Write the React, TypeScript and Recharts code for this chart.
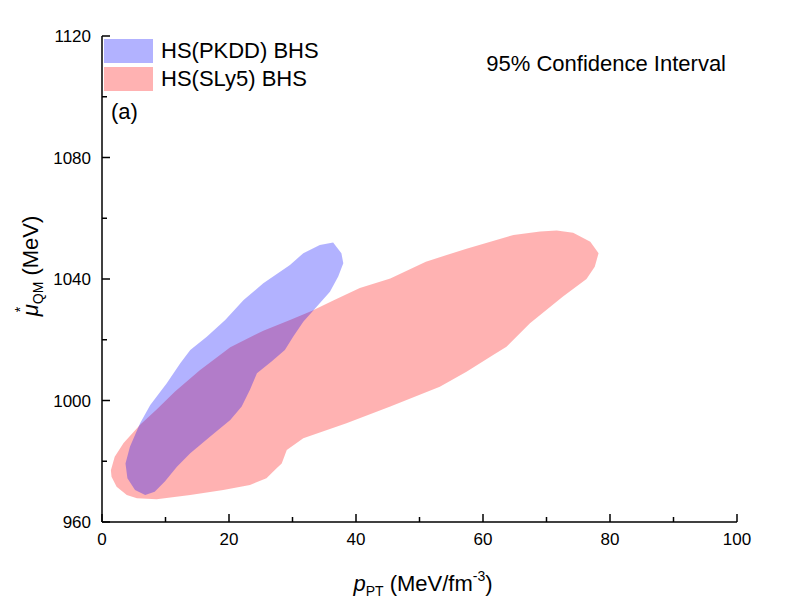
import React from 'react';
import { ComposedChart, Scatter, XAxis, YAxis } from 'recharts';

// Boundary of the 95% confidence region, HS(PKDD) BHS: [p_PT (MeV/fm^-3), mu*_QM (MeV)]
const pkddBoundary: [number, number][] = [
  [36.4, 1052.0], [37.7, 1048.5], [38.0, 1045.2], [37.2, 1040.8], [35.9, 1035.8],
  [33.8, 1030.9], [31.7, 1025.9], [30.1, 1021.0], [28.8, 1016.6], [26.7, 1012.8],
  [24.4, 1009.0], [23.3, 1003.5], [22.0, 998.0], [20.2, 993.6], [17.0, 988.1],
  [13.9, 982.6], [11.8, 978.2], [9.9, 973.3], [8.3, 970.0], [6.8, 968.9],
  [5.2, 970.5], [4.0, 974.4], [3.7, 979.3], [4.4, 984.8], [6.0, 992.5],
  [7.6, 998.5], [10.2, 1005.7], [12.3, 1012.2], [13.9, 1016.6], [16.5, 1021.0],
  [19.4, 1026.5], [22.3, 1033.1], [25.4, 1038.6], [29.6, 1044.6], [31.7, 1048.5],
  [34.3, 1051.2],
];

// Boundary of the 95% confidence region, HS(SLy5) BHS
const sly5Boundary: [number, number][] = [
  [1.4, 977.0], [2.0, 981.5], [3.4, 986.0], [6.0, 992.0], [8.6, 997.0],
  [11.5, 1003.0], [15.4, 1010.0], [20.2, 1017.5], [25.4, 1023.0], [29.6, 1026.5],
  [33.0, 1029.5], [36.5, 1033.0], [40.6, 1037.0], [45.4, 1040.2], [51.0, 1045.7],
  [57.4, 1050.0], [64.8, 1054.5], [69.0, 1055.6], [71.6, 1056.0], [74.2, 1055.2],
  [76.9, 1052.3], [78.2, 1048.5], [77.6, 1044.0], [76.3, 1040.0], [72.6, 1034.2],
  [67.4, 1025.4], [63.7, 1017.7], [61.6, 1015.0], [57.4, 1009.5], [53.2, 1004.5],
  [45.4, 998.0], [38.5, 992.5], [31.7, 987.6], [29.1, 983.7], [28.3, 979.3],
  [27.5, 977.7], [25.9, 974.4], [23.3, 972.2], [19.1, 970.5], [13.9, 968.9],
  [8.6, 967.5], [5.5, 967.8], [3.9, 968.9], [2.3, 971.6], [1.5, 974.9],
];

const seriesNames = ['HS(PKDD) BHS', 'HS(SLy5) BHS'];
const seriesColors = ['#0000ff', '#ff0000'];
const fillOpacity = 0.3;

const xMajorTicks = [0, 20, 40, 60, 80, 100];
const xMinorTicks = [10, 30, 50, 70, 90];
const yMajorTicks = [960, 1000, 1040, 1080, 1120];
const yMinorTicks = [980, 1020, 1060, 1100];

const xTicks = [...xMajorTicks, ...xMinorTicks].sort((a, b) => a - b);
const yTicks = [...yMajorTicks, ...yMinorTicks].sort((a, b) => a - b);

const toPoints = (arr: [number, number][]) => arr.map(([x, y]) => ({ x, y }));
const pkddData = toPoints(pkddBoundary);
const sly5Data = toPoints(sly5Boundary);

const FONT = '"Liberation Sans", Arial, Helvetica, sans-serif';
const W = 793;
const H = 607;
const MAJOR = 8;
const MINOR = 5;
const AXIS_W = 1.5;

const isMajorX = (v: number) => xMajorTicks.includes(v);
const isMajorY = (v: number) => yMajorTicks.includes(v);

const BottomTick = (props: any) => {
  const { x, y, payload } = props;
  const major = isMajorX(payload.value);
  return (
    <g>
      <line x1={x} x2={x} y1={y} y2={y - (major ? MAJOR : MINOR)} stroke="#000" strokeWidth={AXIS_W} />
      {major && (
        <text x={x} y={y + 23} textAnchor="middle" fontSize={17} fontFamily={FONT} fill="#000">
          {payload.value}
        </text>
      )}
    </g>
  );
};

const TopTick = (props: any) => {
  const { x, y, payload } = props;
  const major = isMajorX(payload.value);
  return <line x1={x} x2={x} y1={y} y2={y + (major ? MAJOR : MINOR)} stroke="#000" strokeWidth={AXIS_W} />;
};

const LeftTick = (props: any) => {
  const { x, y, payload } = props;
  const major = isMajorY(payload.value);
  return (
    <g>
      <line x1={x} x2={x + (major ? MAJOR : MINOR)} y1={y} y2={y} stroke="#000" strokeWidth={AXIS_W} />
      {major && (
        <text x={x - 11} y={y + 6} textAnchor="end" fontSize={17} fontFamily={FONT} fill="#000">
          {payload.value}
        </text>
      )}
    </g>
  );
};

const RightTick = (props: any) => {
  const { x, y, payload } = props;
  const major = isMajorY(payload.value);
  return <line x1={x} x2={x - (major ? MAJOR : MINOR)} y1={y} y2={y} stroke="#000" strokeWidth={AXIS_W} />;
};

const noShape = () => <g />;

export default function App() {
  return (
    <div style={{ position: 'absolute', left: 0, top: 0, width: W, height: H, background: '#fff', fontFamily: FONT }}>
      <ComposedChart width={W} height={H} margin={{ top: 36, right: 56, bottom: 45, left: 42 }}>
        <XAxis
          xAxisId="b"
          type="number"
          dataKey="x"
          domain={[0, 100]}
          ticks={xTicks}
          interval={0}
          orientation="bottom"
          height={40}
          tickSize={0}
          tickMargin={0}
          tickLine={false}
          tick={<BottomTick />}
          axisLine={{ stroke: '#000', strokeWidth: AXIS_W }}
          allowDataOverflow
        />
        <XAxis
          xAxisId="t"
          type="number"
          dataKey="x"
          domain={[0, 100]}
          ticks={xTicks}
          interval={0}
          orientation="top"
          height={0}
          tickSize={0}
          tickMargin={0}
          tickLine={false}
          tick={<TopTick />}
          axisLine={{ stroke: '#000', strokeWidth: AXIS_W }}
          allowDataOverflow
        />
        <YAxis
          yAxisId="l"
          type="number"
          dataKey="y"
          domain={[960, 1120]}
          ticks={yTicks}
          interval={0}
          orientation="left"
          width={60}
          tickSize={0}
          tickMargin={0}
          tickLine={false}
          tick={<LeftTick />}
          axisLine={{ stroke: '#000', strokeWidth: AXIS_W }}
          allowDataOverflow
        />
        <YAxis
          yAxisId="r"
          type="number"
          dataKey="y"
          domain={[960, 1120]}
          ticks={yTicks}
          interval={0}
          orientation="right"
          width={0}
          tickSize={0}
          tickMargin={0}
          tickLine={false}
          tick={<RightTick />}
          axisLine={{ stroke: '#000', strokeWidth: AXIS_W }}
          allowDataOverflow
        />
        <Scatter
          name={seriesNames[1]}
          xAxisId="b"
          yAxisId="l"
          data={sly5Data}
          fill={seriesColors[1]}
          shape={noShape}
          line={{ fill: seriesColors[1], fillOpacity, stroke: 'none' }}
          lineType="joint"
          lineJointType="linearClosed"
          isAnimationActive={false}
        />
        <Scatter
          name={seriesNames[0]}
          xAxisId="b"
          yAxisId="l"
          data={pkddData}
          fill={seriesColors[0]}
          shape={noShape}
          line={{ fill: seriesColors[0], fillOpacity, stroke: 'none' }}
          lineType="joint"
          lineJointType="linearClosed"
          isAnimationActive={false}
        />
      </ComposedChart>

      {/* Legend */}
      <div style={{ position: 'absolute', left: 104, top: 39 }}>
        {seriesNames.map((name, i) => (
          <div key={name} style={{ display: 'flex', alignItems: 'center', height: 24, marginBottom: 4 }}>
            <div
              style={{
                width: 49,
                height: 24,
                background: seriesColors[i],
                opacity: fillOpacity,
              }}
            />
            <span style={{ marginLeft: 8, fontSize: 22, lineHeight: '24px', color: '#000', whiteSpace: 'nowrap' }}>{name}</span>
          </div>
        ))}
      </div>

      <div style={{ position: 'absolute', left: 111, top: 100, fontSize: 22, lineHeight: '24px', color: '#000' }}>(a)</div>
      <div style={{ position: 'absolute', right: W - 726, top: 52, fontSize: 22, lineHeight: '24px', color: '#000', whiteSpace: 'nowrap' }}>
        95% Confidence Interval
      </div>

      {/* X axis title */}
      <div style={{ position: 'absolute', left: 0, width: 846, top: 562, textAlign: 'center', fontSize: 22, lineHeight: '28px', color: '#000', whiteSpace: 'nowrap' }}>
        <i>p</i>
        <span style={{ fontSize: 14, verticalAlign: '-5px' }}>PT</span> (MeV/fm
        <span style={{ fontSize: 14, verticalAlign: '10px' }}>-3</span>)
      </div>

      {/* Y axis title */}
      <div
        style={{
          position: 'absolute',
          left: 34,
          top: 266,
          transform: 'translate(-50%, -50%) rotate(-90deg)',
          fontSize: 22,
          lineHeight: '28px',
          color: '#000',
          whiteSpace: 'nowrap',
        }}
      >
        <span style={{ position: 'relative' }}>
          <i>μ</i>
          <span style={{ position: 'absolute', left: 4, top: -12, fontSize: 14 }}>*</span>
        </span>
        <span style={{ fontSize: 14, verticalAlign: '-5px' }}>QM</span> (MeV)
      </div>
    </div>
  );
}
